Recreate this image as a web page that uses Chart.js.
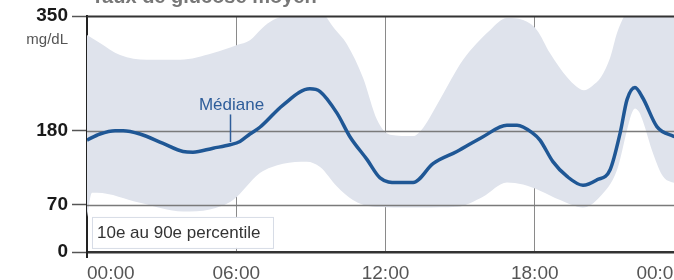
<!DOCTYPE html>
<html><head><meta charset="utf-8">
<script src="https://cdn.jsdelivr.net/npm/chart.js@4/dist/chart.umd.min.js"></script>
<style>html,body{margin:0;padding:0;overflow:hidden;background:#fff}#wrap{width:720px;height:280px}canvas{display:block}</style>
</head><body><div id="wrap"><canvas id="c" width="720" height="280" style="width:720px;height:280px"></canvas></div>
<script>
// ---- data (hours of day, mg/dL) ----
const xTickHours = [0, 6, 12, 18, 24];
const yTickValues = [0, 70, 180, 350];

const medianHours  = [0, 0.52, 1.13, 1.45, 2.13, 3.06, 3.86, 4.26, 5.07, 5.75, 6.15, 6.55, 6.95, 7.88, 8.96, 9.37, 10.05, 10.57, 11.26, 11.78, 12.46, 13.11, 13.91, 14.87, 15.92, 16.88, 17.29, 17.93, 18.21, 18.73, 19.30, 19.94, 20.50, 21.03, 21.43, 21.71, 22.03, 22.35, 22.91, 23.56, 24];
const medianValues = [166, 175, 180, 180, 175, 161, 149, 148, 154, 159, 164, 175, 185, 218, 242, 238, 206, 171, 137, 110, 103, 103, 131, 149, 171, 188, 188, 176, 166, 134, 112, 99, 107, 122, 176, 226, 244, 228, 186, 172, 168];

const p90Hours  = [0, 0.52, 1.33, 2.41, 3.74, 5.07, 6.03, 6.55, 7.04, 7.48, 8.16, 8.96, 9.37, 9.89, 10.45, 11.10, 11.66, 12.18, 13.11, 13.51, 14.19, 15.12, 16.20, 16.88, 17.53, 18.09, 18.61, 19.30, 19.66, 19.98, 20.30, 20.66, 21.03, 21.31, 21.63, 22.03, 23.04, 24];
const p90Values = [322, 310, 292, 285, 285, 295, 307, 314, 332, 344, 353, 365, 360, 334, 308, 258, 196, 174, 172, 184, 226, 285, 329, 347, 344, 329, 295, 259, 246, 240, 246, 259, 288, 325, 352, 368, 370, 370];

const p10Hours  = [0, 0.2, 0.40, 2.13, 3.86, 4.94, 5.87, 6.95, 7.88, 8.84, 9.37, 10.05, 10.69, 11.50, 12.58, 13.51, 14.87, 15.92, 16.88, 17.53, 18.21, 19.02, 19.94, 20.62, 21.31, 21.71, 21.88, 22.03, 22.19, 22.35, 22.75, 23.16, 23.56, 24];
const p10Values = [52, 88, 88, 73, 60, 63, 77, 117, 131, 134, 126, 97, 77, 67, 66, 66, 67, 82, 103, 100, 91, 77, 66, 82, 122, 181, 204, 213, 208, 194, 147, 112, 103, 100];

const titleText = 'Taux de glucose moyen';
const unitText = 'mg/dL';
const medianLabel = 'Médiane';
const bandLabel = '10e au 90e percentile';

// ---- helpers ----
const toPts = (hs, vs) => hs.map((h, i) => ({ x: h, y: vs[i] }));
const fmt = h => String(h % 24).padStart(2, '0') + ':00';
const FONT = '"Liberation Sans", Arial, Helvetica, sans-serif';

const overlay = {
  id: 'overlay',
  afterDatasetDraw(chart, args) {
    if (args.index !== 1) return; // after the percentile band
    const { ctx, chartArea: a, scales: { y } } = chart;
    ctx.save();
    [350, 180, 70].forEach(v => {
      const py = Math.round(y.getPixelForValue(v)) + 0.5;
      ctx.strokeStyle = v === 350 ? '#333' : '#7a7a7a';
      ctx.lineWidth = v === 350 ? 2 : 1.5;
      ctx.beginPath(); ctx.moveTo(a.left, py); ctx.lineTo(a.right, py); ctx.stroke();
    });
    ctx.restore();
  },
  afterDraw(chart) {
    const { ctx, chartArea: a, scales: { x, y } } = chart;
    ctx.save();
    // left axis runs a little below the bottom axis
    ctx.strokeStyle = '#222';
    ctx.lineWidth = 2;
    ctx.beginPath(); ctx.moveTo(a.left, a.bottom); ctx.lineTo(a.left, a.bottom + 6); ctx.stroke();
    // title (cut at top)
    ctx.font = 'bold 20px ' + FONT;
    ctx.fillStyle = '#777';
    ctx.textAlign = 'center';
    ctx.textBaseline = 'alphabetic';
    ctx.fillText(titleText, 204, 3);
    // unit
    ctx.font = '15px ' + FONT;
    ctx.fillStyle = '#555';
    ctx.textAlign = 'right';
    ctx.textBaseline = 'middle';
    ctx.fillText(unitText, 68, 40);
    // band legend box
    const bx = x.getPixelForValue(0.2), by = y.getPixelForValue(52);
    ctx.fillStyle = '#fff';
    ctx.fillRect(bx, by, 181, 31);
    ctx.strokeStyle = '#d7dce6';
    ctx.lineWidth = 1;
    ctx.strokeRect(bx + 0.5, by + 0.5, 181, 31);
    ctx.font = '17px ' + FONT;
    ctx.fillStyle = '#333';
    ctx.textAlign = 'left';
    ctx.fillText(bandLabel, bx + 5, by + 16);
    // median label
    const mx = Math.round(x.getPixelForValue(5.75)) + 0.5;
    ctx.font = '17px ' + FONT;
    ctx.fillStyle = '#2e5d9a';
    ctx.textAlign = 'center';
    ctx.fillText(medianLabel, mx + 1, y.getPixelForValue(218));
    ctx.strokeStyle = '#2e5d9a';
    ctx.lineWidth = 1.5;
    ctx.beginPath();
    ctx.moveTo(mx, y.getPixelForValue(204));
    ctx.lineTo(mx, y.getPixelForValue(163));
    ctx.stroke();
    ctx.restore();
  }
};

new Chart(document.getElementById('c'), {
  type: 'line',
  data: {
    datasets: [
      { label: medianLabel, data: toPts(medianHours, medianValues), borderColor: '#1f5795', borderWidth: 3.5,
        pointRadius: 0, fill: false, cubicInterpolationMode: 'monotone', order: 0 },
      { label: '90e', data: toPts(p90Hours, p90Values), borderWidth: 0, borderColor: 'rgba(0,0,0,0)',
        backgroundColor: '#dfe3ec', fill: '+1', pointRadius: 0, cubicInterpolationMode: 'monotone', order: 1 },
      { label: '10e', data: toPts(p10Hours, p10Values), borderWidth: 0, borderColor: 'rgba(0,0,0,0)',
        fill: false, pointRadius: 0, cubicInterpolationMode: 'monotone', order: 2 }
    ]
  },
  options: {
    responsive: false,
    animation: false,
    layout: { padding: { top: 16, right: 36, bottom: 0, left: 0 } },
    plugins: { legend: { display: false }, tooltip: { enabled: false }, title: { display: false } },
    scales: {
      x: {
        type: 'linear', min: 0, max: 24,
        afterBuildTicks: s => { s.ticks = xTickHours.map(v => ({ value: v })); },
        afterFit: s => { s.height = 28; },
        grid: { drawOnChartArea: true, drawTicks: false, color: '#8a8a8a', lineWidth: 1 },
        border: { display: true, color: '#333', width: 2.5 },
        ticks: { padding: 10, align: 'inner', color: '#555', font: { family: FONT, size: 19 }, maxRotation: 0, autoSkip: false,
                 callback: v => fmt(v) }
      },
      y: {
        type: 'linear', min: 0, max: 350,
        afterBuildTicks: s => { s.ticks = yTickValues.map(v => ({ value: v })); },
        afterFit: s => { s.width = 87; },
        grid: { drawOnChartArea: false, drawTicks: true, tickLength: 15, tickColor: '#555', tickWidth: 1.5 },
        border: { display: true, color: '#222', width: 2 },
        ticks: { padding: 4, color: '#1a1a1a', font: { family: FONT, size: 19, weight: 'bold' }, callback: v => String(v) }
      }
    }
  },
  plugins: [overlay]
});
</script>
</body></html>
